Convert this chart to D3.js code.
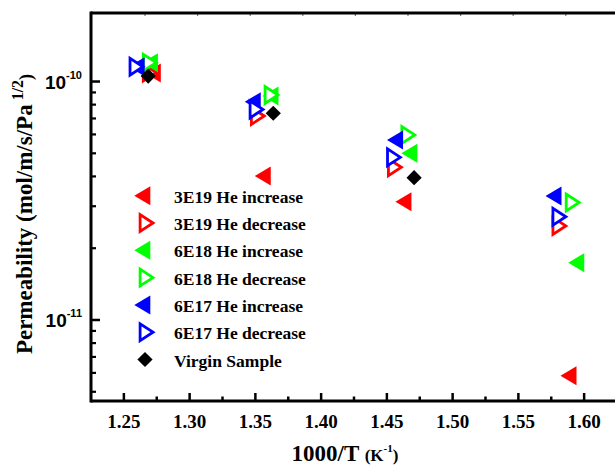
<!DOCTYPE html>
<html>
<head>
<meta charset="utf-8">
<script src="https://cdn.jsdelivr.net/npm/d3@7"></script>
<style>
  html, body { margin: 0; padding: 0; background: #fff; }
  svg { display: block; }
</style>
</head>
<body>
<script>
// ---------------- data ----------------
const seriesNames = ["3E19 He increase", "3E19 He decrease", "6E18 He increase",
                     "6E18 He decrease", "6E17 He increase", "6E17 He decrease", "Virgin Sample"];
const seriesColors = ["#ff0000", "#ff0000", "#00ff00", "#00ff00", "#0000ff", "#0000ff", "#000000"];
const seriesShapes = ["leftFilled", "rightOpen", "leftFilled", "rightOpen", "leftFilled", "rightOpen", "diamond"];

const x3E19Inc = [1.2720, 1.3556, 1.4626, 1.5881];
const y3E19Inc = [1.085e-10, 4.02e-11, 3.13e-11, 5.84e-12];
const x3E19Dec = [1.2698, 1.3520, 1.4562, 1.5813];
const y3E19Dec = [1.09e-10, 7.17e-11, 4.37e-11, 2.48e-11];
const x6E18Inc = [1.2698, 1.3615, 1.4671, 1.5940];
const y6E18Inc = [1.20e-10, 8.70e-11, 5.00e-11, 1.74e-11];
const x6E18Dec = [1.2698, 1.3624, 1.4664, 1.5914];
const y6E18Dec = [1.20e-10, 8.78e-11, 5.97e-11, 3.11e-11];
const x6E17Inc = [1.2597, 1.3480, 1.4562, 1.5767];
const y6E17Inc = [1.153e-10, 8.23e-11, 5.68e-11, 3.31e-11];
const x6E17Dec = [1.2597, 1.3510, 1.4555, 1.5813];
const y6E17Dec = [1.153e-10, 7.64e-11, 4.81e-11, 2.71e-11];
const xVirgin = [1.2685, 1.3636, 1.4707];
const yVirgin = [1.054e-10, 7.36e-11, 3.95e-11];

const seriesX = [x3E19Inc, x3E19Dec, x6E18Inc, x6E18Dec, x6E17Inc, x6E17Dec, xVirgin];
const seriesY = [y3E19Inc, y3E19Dec, y6E18Inc, y6E18Dec, y6E17Inc, y6E17Dec, yVirgin];

const xTickValues = [1.25, 1.30, 1.35, 1.40, 1.45, 1.50, 1.55, 1.60];
const xTickLabels = ["1.25", "1.30", "1.35", "1.40", "1.45", "1.50", "1.55", "1.60"];
const yMajorTicks = [1e-10, 1e-11];
const yMajorExp = ["-10", "-11"];

// ---------------- layout ----------------
const W = 615, H = 465;
const pLeft = 91, pRight = 617, pTop = 13, pBottom = 401;

const x = d3.scaleLinear().domain([1.225, 1.625]).range([pLeft, pRight]);
const y = d3.scaleLog().domain([4.574e-12, 1.938e-10]).range([pBottom, pTop]);

const svg = d3.select("body").append("svg").attr("width", W).attr("height", H);

const serif = "'Liberation Serif', 'Times New Roman', serif";
const sans = "'Liberation Sans', Arial, sans-serif";

// ---------------- markers ----------------
function markerPath(shape) {
  if (shape === "leftFilled") return "M -8,0 L 8,-9.5 L 8,9.5 Z";
  if (shape === "rightOpen") return "M 6.3,0 L -6.6,-8.4 L -6.6,8.4 Z";
  return "M 0,-7.6 L 7.6,0 L 0,7.6 L -7.6,0 Z";
}
function styleMarker(sel, shape, color) {
  if (shape === "rightOpen") {
    sel.attr("fill", "#fff").attr("stroke", color).attr("stroke-width", 2.8)
       .attr("stroke-linejoin", "miter");
  } else {
    sel.attr("fill", color).attr("stroke", "none");
  }
}

// ---------------- data points ----------------
const plot = svg.append("g");
seriesNames.forEach((name, i) => {
  const pts = seriesX[i].map((xv, j) => ({ x: xv, y: seriesY[i][j] }));
  const sel = plot.append("g").selectAll("path").data(pts).enter().append("path")
    .attr("d", markerPath(seriesShapes[i]))
    .attr("transform", d => `translate(${x(d.x)},${y(d.y)})`);
  styleMarker(sel, seriesShapes[i], seriesColors[i]);
});

// ---------------- axes ----------------
const axes = svg.append("g").attr("stroke", "#000").attr("stroke-linecap", "butt");

const xMinor = xTickValues.map(v => v + 0.025).filter(v => v < 1.62);
axes.selectAll(".xmaj").data(xTickValues).enter().append("line")
  .attr("x1", d => x(d)).attr("x2", d => x(d))
  .attr("y1", pBottom).attr("y2", pBottom - 8).attr("stroke-width", 2.5);
axes.selectAll(".xmin").data(xMinor).enter().append("line")
  .attr("x1", d => x(d)).attr("x2", d => x(d))
  .attr("y1", pBottom).attr("y2", pBottom - 4.5).attr("stroke-width", 2.5);

const yMinor = [];
[1e-12, 1e-11, 1e-10].forEach(dec => {
  for (let k = 2; k <= 9; k++) {
    const v = k * dec;
    if (v > y.domain()[0] && v < y.domain()[1]) yMinor.push(v);
  }
});
axes.selectAll(".ymaj").data(yMajorTicks).enter().append("line")
  .attr("x1", pLeft).attr("x2", pLeft + 9)
  .attr("y1", d => y(d)).attr("y2", d => y(d)).attr("stroke-width", 2.5);
axes.selectAll(".ymin").data(yMinor).enter().append("line")
  .attr("x1", pLeft).attr("x2", pLeft + 5)
  .attr("y1", d => y(d)).attr("y2", d => y(d)).attr("stroke-width", 2.2);

const topTicks = d3.range(0, 9).map(k => 145 + k * 52.6);
axes.selectAll(".tt").data(topTicks).enter().append("line")
  .attr("x1", d => d).attr("x2", d => d)
  .attr("y1", pTop).attr("y2", pTop + 3).attr("stroke", "#777").attr("stroke-width", 1.2);

axes.append("line").attr("x1", pLeft).attr("x2", pRight + 2).attr("y1", pBottom).attr("y2", pBottom).attr("stroke-width", 3);
axes.append("line").attr("x1", pLeft).attr("x2", pRight + 2).attr("y1", pTop).attr("y2", pTop).attr("stroke-width", 3);
axes.append("line").attr("x1", pLeft).attr("x2", pLeft).attr("y1", pTop - 1.5).attr("y2", pBottom + 1.5).attr("stroke-width", 3);

// x tick labels
svg.append("g").selectAll("text").data(xTickValues).enter().append("text")
  .attr("x", d => x(d)).attr("y", 428)
  .attr("text-anchor", "middle")
  .attr("font-family", serif).attr("font-weight", "bold").attr("font-size", 19)
  .text((d, i) => xTickLabels[i]);

// y tick labels
const yl = svg.append("g").selectAll("text").data(yMajorTicks).enter().append("text")
  .attr("x", 82).attr("y", d => y(d) + 7.5)
  .attr("text-anchor", "end")
  .attr("font-family", sans).attr("font-weight", "bold").attr("font-size", 19);
yl.append("tspan").text("10");
yl.append("tspan").attr("font-size", 11).attr("dy", -10).text((d, i) => yMajorExp[i]);

// x title
const xt = svg.append("text").attr("x", 345).attr("y", 461).attr("text-anchor", "middle")
  .attr("font-family", serif).attr("font-weight", "bold").attr("font-size", 23);
xt.append("tspan").text("1000/T ");
xt.append("tspan").attr("font-size", 17).text("(K");
xt.append("tspan").attr("font-size", 11).attr("dy", -9).text("-1");
xt.append("tspan").attr("font-size", 17).attr("dy", 9).text(")");

// y title
const ytt = svg.append("text").attr("transform", "translate(32,214) rotate(-90)")
  .attr("text-anchor", "middle")
  .attr("font-family", serif).attr("font-weight", "bold").attr("font-size", 23);
ytt.append("tspan").text("Permeability (mol/m/s/Pa");
ytt.append("tspan").attr("font-size", 16).attr("dy", -9).text(" 1/2");
ytt.append("tspan").attr("font-size", 18).attr("dy", 9).text(")");

// ---------------- legend ----------------
const legend = svg.append("g");
seriesNames.forEach((name, i) => {
  const cy = 195.7 + i * 27.3;
  const shape = seriesShapes[i];
  const cx = shape === "leftFilled" ? 142.3 : (shape === "rightOpen" ? 146.7 : 145);
  const m = legend.append("path").attr("d", markerPath(shape))
    .attr("transform", `translate(${cx},${cy})`);
  styleMarker(m, shape, seriesColors[i]);
  legend.append("text").attr("x", 174).attr("y", cy + 7)
    .attr("font-family", serif).attr("font-weight", "bold").attr("font-size", 17.5)
    .text(name);
});
</script>
</body>
</html>
